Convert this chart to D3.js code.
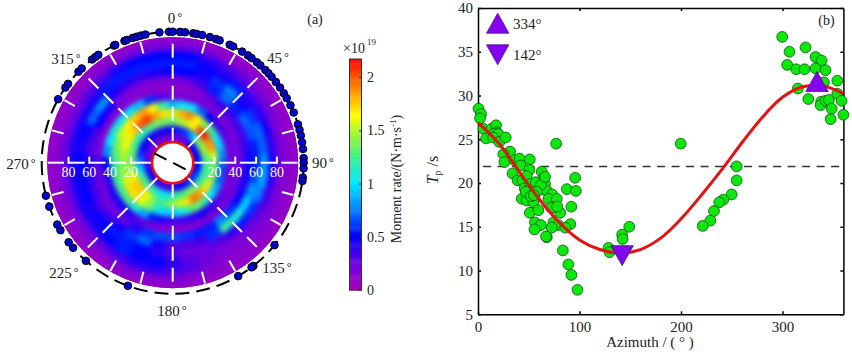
<!DOCTYPE html>
<html lang="en">
<head>
<meta charset="UTF-8">
<title>Moment rate and Tp by azimuth</title>
<script src="https://cdn.jsdelivr.net/npm/d3@7/dist/d3.min.js"></script>
<style>
body { margin: 0; background: #fff; }
text { font-family: "Liberation Serif", serif; fill: #222; }
</style>
</head>
<body>
<script>
// panel (a): moment rate, x10^19, rows = takeoff bins, columns = azimuth bins
var takeoffBins = [4, 12, 20, 28, 36, 44, 52, 60, 68, 76, 84, 92, 100];
var azimuthBins = [0,10,20,30,40,50,60,70,80,90,100,110,120,130,140,150,160,170,180,190,200,210,220,230,240,250,260,270,280,290,300,310,320,330,340,350];
var momentRate = [
  [.2,.2,.25,.3,.4,.5,.5,.5,.5,.5,.5,.55,.6,.6,.6,.55,.5,.45,.4,.35,.35,.35,.35,.4,.45,.45,.4,.35,.3,.25,.2,.2,.2,.2,.2,.2],
  [.5,.55,.6,.7,1,1.35,1.4,1.45,1.3,1.25,1.2,1.2,1.2,1.25,1.35,1.4,1.3,1.25,1.15,1.05,1.05,1.1,1.2,1.25,1.25,1.15,.95,.8,.65,.55,.5,.45,.45,.45,.45,.45],
  [1.35,1.45,1.55,1.65,2,2.12,1.9,1.85,1.55,1.4,1.35,1.4,1.55,1.7,1.85,1.95,1.7,1.55,1.45,1.3,1.2,1.45,1.65,1.75,1.75,1.65,1.45,1.4,1.35,1.3,1.2,1.15,1.15,1.3,1.35,1.35],
  [1.55,1.8,1.9,1.65,1.4,1.25,1.05,.95,.8,.7,.65,.7,.85,1,1.2,1.35,1.25,1.05,.95,.95,1.1,1.4,1.6,1.7,1.7,1.55,1.45,1.4,1.5,1.6,1.65,1.75,2,2.05,1.85,1.7],
  [.9,1,1,.7,.5,.35,.3,.25,.2,.2,.2,.2,.25,.3,.4,.45,.4,.35,.35,.4,.55,.85,1.1,1.25,1.25,1.25,1.2,1.2,1.3,1.4,1.55,1.65,1.75,1.85,1.65,1.2],
  [.2,.2,.2,.2,.18,.18,.2,.22,.25,.25,.25,.25,.22,.2,.2,.18,.15,.15,.15,.15,.2,.3,.4,.45,.45,.4,.4,.5,.8,1,1.1,1.05,1,.9,.6,.3],
  [.12,.12,.15,.25,.35,.35,.35,.35,.4,.45,.45,.45,.5,.6,.75,.55,.55,.6,.65,.65,.6,.4,.25,.2,.2,.2,.25,.3,.2,.15,.15,.15,.15,.12,.12,.12],
  [.2,.25,.35,.55,.7,.55,.7,.65,.55,.55,.65,.8,.95,1.1,1.2,.6,.35,.3,.3,.45,.7,.6,.45,.35,.3,.35,.4,.42,.3,.35,.5,.45,.25,.2,.18,.18],
  [.5,.5,.45,.6,.75,.45,.6,.7,.7,.8,.85,.75,.6,.55,.4,.3,.25,.25,.3,.4,.5,.55,.55,.5,.45,.5,.5,.5,.45,.5,.7,.8,.45,.4,.4,.45],
  [.55,.55,.5,.45,.55,.4,.4,.45,.4,.45,.4,.35,.3,.25,.2,.2,.25,.3,.4,.5,.5,.55,.5,.45,.45,.45,.45,.45,.45,.45,.45,.45,.55,.55,.55,.55],
  [.5,.5,.4,.35,.3,.25,.25,.2,.2,.2,.18,.18,.18,.18,.15,.15,.2,.3,.35,.4,.4,.35,.3,.25,.25,.25,.25,.25,.25,.25,.25,.3,.35,.45,.5,.5],
  [.22,.22,.18,.15,.15,.12,.12,.12,.12,.12,.12,.12,.12,.12,.12,.12,.12,.15,.18,.18,.18,.15,.12,.12,.12,.12,.12,.12,.12,.12,.12,.12,.15,.18,.2,.22],
  [.08,.08,.08,.08,.08,.08,.08,.08,.08,.08,.08,.08,.08,.08,.08,.08,.08,.08,.08,.08,.08,.08,.08,.08,.08,.08,.08,.08,.08,.08,.08,.08,.08,.08,.08,.08]
];
var stationAz = [333.4,334,338.4,339.5,342.3,344.1,346,348,354.2,358.4,0,3.2,5.4,9,10.5,13,16.5,19.3,21,25.8,27.5,32,35,37,40,42,45,47,49,52,55,58,60.5,64,67.5,73,75.5,78,81,84,88,90,92.5,96.5,98,129,142,143,150,200,221.5,229.5,232.6,239,241.8,250.4,255.4,299,305,307,314,316,322,323.8,325.4];
var rateTicks = [0, 0.5, 1, 1.5, 2];
var rateStops = [0, .25, .5, .75, 1, 1.25, 1.5, 1.63, 1.88, 2.17];
var rateColors = ["#a800bc", "#6a00e0", "#0000ff", "#0080ff", "#00e8ff", "#40f08a", "#b0f828", "#ffff00", "#ff9000", "#ff0000"];
var radialLabels = [20, 40, 60, 80];
var spokeAz = [0, 45, 135, 180, 225, 315];
var strikeAz = [117, 297];

// panel (b): Tp against azimuth
var pointAz = [0.5,3,2,5.3,8,13.5,17.8,18.4,15.8,20,15,21,27.3,31.6,25,26,36,41,51,42,34,50.6,62.8,39,43.7,48,65,53,58,66,46,49,62.8,68,73,43,48,69.4,77.6,54.6,74.3,51,59.5,81,56,74.3,79,91,86,62,55.6,72.7,67.8,67,77,95.7,87.5,96.4,92,83.6,89,92,98,128.6,129.6,142,142.5,149,52,57,62,66,47,52,58,72,78,55,199.7,254.8,254.8,249.9,241.7,237.7,232.5,228.9,221.4,299.7,306.9,322.7,304.6,313.5,321.7,332.6,338.5,332.6,342.4,340.8,354,315.1,325.4,338.2,337.5,342.4,345.7,354,358.2,348.4,360,347.4];
var pointTp = [28.5,27.9,27.4,26.2,25.1,26.2,26.6,25.8,25.6,25.6,25.2,24.7,25.2,23.6,23.3,22.4,22.6,22.8,22.7,22,21.1,21.5,21.3,20.3,20.3,20.8,20.6,19.7,20,19.9,19.4,19.1,19.3,19.1,18.7,18.2,18,18.2,18.2,17.8,17.2,16.6,16.9,16.6,15.5,15.5,15.2,15.3,14.9,15.2,14.7,14.9,13.8,13.9,24.5,20.6,19.3,19.1,17.3,12.3,10.7,9.5,7.8,12.6,12.1,14.1,13.6,15,19.9,20.1,19.8,20.7,19,18.5,19,17.2,17.3,18.6,24.5,21.9,20.3,18.7,18.1,17.8,16.8,15.7,15.1,36.7,35,35.5,33.5,33,33,34.4,34,33.1,32.9,31.5,31.7,30.8,29.6,29.3,28.9,29.4,29.5,30.2,29.4,28.5,27.8,27.3];
var curveAz = [0,20,40,60,80,100,120,140,160,180,200,220,240,260,280,300,320,340,360];
var curveTp = [26.9,24.6,21.4,18.2,15.5,13.5,12.4,12,12.4,13.7,15.9,18.6,21.5,24.6,27.5,29.8,31,31.1,30.2];
var xTicks = [0, 100, 200, 300];
var yTicks = [5, 10, 15, 20, 25, 30, 35, 40];
var maxAz = 334, maxTp = 31.6, minAz = 142, minTp = 11.7;
var refTp = 21.9;

var svg = d3.select("body").append("svg").attr("width", 852).attr("height", 355).style("display", "block");
var rad = Math.PI / 180;

// ---- panel (a)
var cx = 172.7, cy = 162.7;
var r = d3.scaleLinear().domain([0, 100]).range([21, 125]);
var color = d3.scaleLinear().domain(rateStops).range(rateColors);
function pt(az, rr) { return [cx + rr * Math.sin(az * rad), cy - rr * Math.cos(az * rad)]; }

var defs = svg.append("defs");
defs.append("clipPath").attr("id", "disc").append("circle").attr("cx", cx).attr("cy", cy).attr("r", 125.5);
defs.append("filter").attr("id", "soft")
  .attr("filterUnits", "userSpaceOnUse").attr("x", -170).attr("y", -170).attr("width", 340).attr("height", 340)
  .attr("color-interpolation-filters", "sRGB")
  .append("feGaussianBlur").attr("stdDeviation", 2.8);

var a = svg.append("g");
var disc = a.append("g").attr("clip-path", "url(#disc)");
disc.append("circle").attr("cx", cx).attr("cy", cy).attr("r", 126).attr("fill", color(0.08));
var cells = disc.append("g").attr("transform", "translate(" + cx + "," + cy + ")").attr("filter", "url(#soft)")
  .append("g");
var arc = d3.arc();
var cellData = [];
takeoffBins.forEach(function (v, i) {
  azimuthBins.forEach(function (az, j) {
    cellData.push({ v: v, az: az, rate: momentRate[i][j] });
  });
});
cells.selectAll("path").data(cellData).enter().append("path")
  .attr("d", function (d) {
    return arc({ innerRadius: r(d.v - 4), outerRadius: r(d.v + 4) + (d.v == 100 ? 4 : 0), startAngle: (d.az - 5) * rad, endAngle: (d.az + 5) * rad });
  })
  .attr("fill", function (d) { return color(d.rate); })
  .attr("stroke", function (d) { return color(d.rate); })
  .attr("stroke-width", 0.6);

// white grid
var grid = a.append("g").attr("stroke", "#fff").attr("stroke-width", 2);
spokeAz.forEach(function (az) {
  var p0 = pt(az, r(0)), p1 = pt(az, r(100));
  grid.append("line").attr("x1", p0[0]).attr("y1", p0[1]).attr("x2", p1[0]).attr("y2", p1[1])
    .attr("stroke-dasharray", (az == 45 || az == 225) ? "36 7 14 7 14 7 14 7 14 7" : "14 7");
});
d3.range(15, 360, 15).filter(function (az) { return az % 45 != 0; }).forEach(function (az) {
  var p0 = pt(az, 113), p1 = pt(az, r(100));
  grid.append("line").attr("x1", p0[0]).attr("y1", p0[1]).attr("x2", p1[0]).attr("y2", p1[1]);
});
// horizontal axis: dash ends on each labelled tick
[90, 270].forEach(function (az) {
  radialLabels.concat([100]).forEach(function (v) {
    var p0 = pt(az, v == 20 ? r(0) : r(v) - 16.3), p1 = pt(az, r(v));
    grid.append("line").attr("x1", p0[0]).attr("y1", p0[1]).attr("x2", p1[0]).attr("y2", p1[1]);
    if (v < 100) {
      grid.append("line").attr("x1", p1[0]).attr("y1", p1[1] + 1).attr("x2", p1[0]).attr("y2", p1[1] - 6);
      a.append("text").attr("x", p1[0]).attr("y", p1[1] + 14).attr("text-anchor", "middle")
        .attr("font-size", 14).style("fill", "#fff").text(v);
    }
  });
});

// source hole
a.append("circle").attr("cx", cx).attr("cy", cy).attr("r", 20.6).attr("fill", "#fff").attr("stroke", "#e01414").attr("stroke-width", 2.6);
var s0 = pt(strikeAz[0], 21), s1 = pt(strikeAz[1], 21);
a.append("line").attr("x1", s1[0]).attr("y1", s1[1]).attr("x2", s0[0]).attr("y2", s0[1])
  .attr("stroke", "#000").attr("stroke-width", 2).attr("stroke-dasharray", "14 7.5");

// stations on dashed ring
a.append("circle").attr("cx", cx).attr("cy", cy).attr("r", 131).attr("fill", "none")
  .attr("stroke", "#000").attr("stroke-width", 2).attr("stroke-dasharray", "14 7");
a.selectAll(".station").data(stationAz).enter().append("circle").attr("class", "station")
  .attr("cx", function (d) { return pt(d, 131)[0]; })
  .attr("cy", function (d) { return pt(d, 131)[1]; })
  .attr("r", 3.8).attr("fill", "#0404d0").attr("stroke", "#000").attr("stroke-width", 1);

// azimuth labels
var azLabels = [["0", 175, 18], ["45", 278, 58], ["90", 323, 163], ["135", 277, 268], ["180", 172, 311], ["225", 64, 273], ["270", 21, 164], ["315", 66, 59]];
azLabels.forEach(function (d) {
  var t = a.append("text").attr("x", d[1]).attr("y", d[2] + 5).attr("text-anchor", "middle").attr("font-size", 15).text(d[0]);
  t.append("tspan").attr("dx", 2).attr("dy", -2).attr("font-size", 12).text("°");
});
a.append("text").attr("x", 315).attr("y", 24).attr("text-anchor", "middle").attr("font-size", 14).text("(a)");

// colour bar
var barY = d3.scaleLinear().domain([0, 2.17]).range([290, 59]);
var bar = svg.append("g");
bar.selectAll("rect").data(d3.range(0, 2.17, 0.01)).enter().append("rect")
  .attr("x", 349.5).attr("width", 12)
  .attr("y", function (d) { return barY(d + 0.01); })
  .attr("height", function (d) { return barY(d) - barY(d + 0.01) + 0.5; })
  .attr("fill", function (d) { return color(d); });
bar.append("rect").attr("x", 349.5).attr("y", 59).attr("width", 12).attr("height", 231).attr("fill", "none").attr("stroke", "#3a2a3a").attr("stroke-width", 1);
var barAxis = bar.append("g").attr("transform", "translate(361.5,0)")
  .call(d3.axisRight(barY).tickValues(rateTicks).tickFormat(d3.format("")).tickSizeInner(-2.5).tickSizeOuter(0).tickPadding(5.5));
barAxis.select(".domain").remove();
barAxis.selectAll("line").attr("stroke", "#333");
barAxis.selectAll("text").attr("font-size", 14).attr("font-family", "Liberation Serif");
svg.append("text").attr("x", 343).attr("y", 53).attr("font-size", 14).text("×10");
svg.append("text").attr("x", 367).attr("y", 45).attr("font-size", 9).text("19");
var barLabel = svg.append("text").attr("transform", "translate(401,179) rotate(-90)")
  .attr("text-anchor", "middle").attr("font-size", 14).text("Moment rate/(N·m·s");
barLabel.append("tspan").attr("dy", -5).attr("font-size", 9).text("-1");
barLabel.append("tspan").attr("dy", 5).text(")");

// ---- panel (b)
var x = d3.scaleLinear().domain([0, 360]).range([478, 843.4]);
var y = d3.scaleLinear().domain([5, 40]).range([314.3, 8]);
var b = svg.append("g");

function styleAxis(g) {
  g.selectAll(".domain").attr("stroke", "#000").attr("stroke-width", 1.5);
  g.selectAll("line").attr("stroke", "#000").attr("stroke-width", 1.5);
  g.selectAll("text").attr("font-size", 15).attr("font-family", "Liberation Serif");
}
b.append("g").attr("transform", "translate(0,314.3)")
  .call(d3.axisBottom(x).tickValues(xTicks).tickFormat(d3.format("")).tickSizeInner(-3).tickSizeOuter(0).tickPadding(7)).call(styleAxis);
b.append("g").attr("transform", "translate(0,8)")
  .call(d3.axisTop(x).tickValues(xTicks.slice(1)).tickFormat("").tickSizeInner(-3).tickSizeOuter(0)).call(styleAxis);
b.append("g").attr("transform", "translate(478,0)")
  .call(d3.axisLeft(y).tickValues(yTicks).tickFormat(d3.format("")).tickSizeInner(-3).tickSizeOuter(0).tickPadding(5)).call(styleAxis);
b.append("g").attr("transform", "translate(843.4,0)")
  .call(d3.axisRight(y).tickValues(yTicks).tickFormat("").tickSizeInner(-3).tickSizeOuter(0)).call(styleAxis);

b.append("line").attr("x1", x(5)).attr("x2", x(360)).attr("y1", y(refTp)).attr("y2", y(refTp))
  .attr("stroke", "#333").attr("stroke-width", 1.5).attr("stroke-dasharray", "8 6.5");

var pts = pointAz.map(function (d, i) { return [d, pointTp[i]]; });
b.selectAll(".tp").data(pts).enter().append("circle").attr("class", "tp")
  .attr("cx", function (d) { return x(d[0]); })
  .attr("cy", function (d) { return y(d[1]); })
  .attr("r", 5.4).attr("fill", "#0ce80c").attr("stroke", "#0a520a").attr("stroke-width", 0.8);

var line = d3.line().x(function (d) { return x(d[0]); }).y(function (d) { return y(d[1]); }).curve(d3.curveCatmullRom);
b.append("path").attr("fill", "none").attr("stroke", "#e41212").attr("stroke-width", 3)
  .attr("d", line(curveAz.map(function (d, i) { return [d, curveTp[i]]; })));

function tri(px, py, up) {
  // base 22.5 wide, height 20, px/py at centre
  var h = up ? -10 : 10;
  return "M" + px + "," + (py + h) + "L" + (px + 11.2) + "," + (py - h) + "L" + (px - 11.2) + "," + (py - h) + "Z";
}
function triangle(px, py, up) {
  b.append("path").attr("d", tri(px, py, up)).attr("fill", "#8400ee").attr("stroke", "#4a1a80").attr("stroke-width", 0.8);
}
triangle(x(maxAz), y(maxTp), true);
triangle(x(minAz), y(minTp), false);
triangle(497.7, 23.2, true);
triangle(497.7, 54.8, false);
b.append("text").attr("x", 513).attr("y", 29).attr("font-size", 15).text("334°");
b.append("text").attr("x", 513).attr("y", 60).attr("font-size", 15).text("142°");
b.append("text").attr("x", 826.5).attr("y", 25).attr("text-anchor", "middle").attr("font-size", 14).text("(b)");

b.append("text").attr("x", 650).attr("y", 347).attr("text-anchor", "middle").attr("font-size", 15).attr("xml:space", "preserve").text("Azimuth / ( ° )");
var yl = b.append("text").attr("transform", "translate(438,170) rotate(-90)").attr("text-anchor", "middle").attr("font-size", 16);
yl.append("tspan").attr("font-style", "italic").text("T");
yl.append("tspan").attr("dy", 3).attr("font-size", 10).text("p");
yl.append("tspan").attr("dy", -3).text(" /s");
</script>
</body>
</html>
